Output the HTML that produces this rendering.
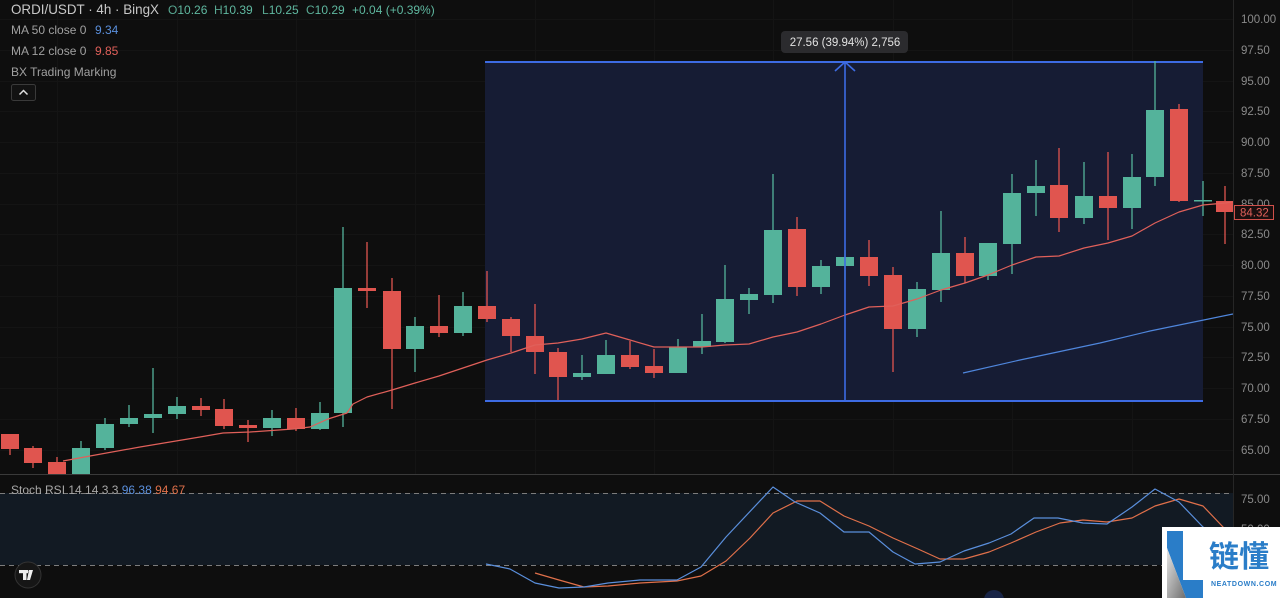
<!DOCTYPE html>
<html>
<head>
<meta charset="utf-8">
<style>
  html,body{margin:0;padding:0;background:#0e0e0e;}
  body{width:1280px;height:598px;overflow:hidden;}
  svg{display:block;}
  text{font-family:"Liberation Sans","Noto Sans CJK SC",sans-serif;}
</style>
</head>
<body>
<svg width="1280" height="598" viewBox="0 0 1280 598" xmlns="http://www.w3.org/2000/svg">
  <defs>
    <clipPath id="pricePane"><rect x="0" y="0" width="1233" height="474"/></clipPath>
    <clipPath id="rsiPane"><rect x="0" y="475" width="1233" height="123"/></clipPath>
    <linearGradient id="lg" x1="0" y1="0" x2="1" y2="1">
      <stop offset="0" stop-color="#e6e6e6"/>
      <stop offset="1" stop-color="#6e6e6e"/>
    </linearGradient>
  </defs>

  <rect x="0" y="0" width="1280" height="598" fill="#0e0e0e"/>

  <!-- grid -->
  <g stroke="#141414" stroke-width="1">
    <line x1="0" y1="19.5" x2="1233" y2="19.5"/>
    <line x1="0" y1="50.5" x2="1233" y2="50.5"/>
    <line x1="0" y1="81.5" x2="1233" y2="81.5"/>
    <line x1="0" y1="111.5" x2="1233" y2="111.5"/>
    <line x1="0" y1="142.5" x2="1233" y2="142.5"/>
    <line x1="0" y1="173.5" x2="1233" y2="173.5"/>
    <line x1="0" y1="204.5" x2="1233" y2="204.5"/>
    <line x1="0" y1="234.5" x2="1233" y2="234.5"/>
    <line x1="0" y1="265.5" x2="1233" y2="265.5"/>
    <line x1="0" y1="296.5" x2="1233" y2="296.5"/>
    <line x1="0" y1="327.5" x2="1233" y2="327.5"/>
    <line x1="0" y1="357.5" x2="1233" y2="357.5"/>
    <line x1="0" y1="388.5" x2="1233" y2="388.5"/>
    <line x1="0" y1="419.5" x2="1233" y2="419.5"/>
    <line x1="0" y1="450.5" x2="1233" y2="450.5"/>
    <line x1="57.5" y1="0" x2="57.5" y2="598"/>
    <line x1="177.5" y1="0" x2="177.5" y2="598"/>
    <line x1="296.5" y1="0" x2="296.5" y2="598"/>
    <line x1="415.5" y1="0" x2="415.5" y2="598"/>
    <line x1="535.5" y1="0" x2="535.5" y2="598"/>
    <line x1="654.5" y1="0" x2="654.5" y2="598"/>
    <line x1="773.5" y1="0" x2="773.5" y2="598"/>
    <line x1="893.5" y1="0" x2="893.5" y2="598"/>
    <line x1="1012.5" y1="0" x2="1012.5" y2="598"/>
    <line x1="1132.5" y1="0" x2="1132.5" y2="598"/>
  </g>

  <g clip-path="url(#pricePane)">
    <!-- measurement box -->
    <rect x="485" y="62" width="718" height="339" fill="#161c34"/>
    <line x1="485" y1="62" x2="1203" y2="62" stroke="#3d6be3" stroke-width="2"/>
    <line x1="485" y1="401" x2="1203" y2="401" stroke="#3d6be3" stroke-width="2"/>

    <!-- candles -->
    <g stroke-width="1.3">
      <g fill="#e0554f" stroke="#e0554f">
        <line x1="10" y1="434" x2="10" y2="455"/><rect x="1" y="434" width="18" height="15" stroke="none"/>
        <line x1="33" y1="446" x2="33" y2="468"/><rect x="24" y="448" width="18" height="15" stroke="none"/>
        <line x1="57" y1="457" x2="57" y2="475"/><rect x="48" y="462" width="18" height="13" stroke="none"/>
        <line x1="201" y1="398" x2="201" y2="416"/><rect x="192" y="406" width="18" height="4" stroke="none"/>
        <line x1="224" y1="399" x2="224" y2="429"/><rect x="215" y="409" width="18" height="17" stroke="none"/>
        <line x1="248" y1="420" x2="248" y2="442"/><rect x="239" y="425" width="18" height="3" stroke="none"/>
        <line x1="296" y1="408" x2="296" y2="431"/><rect x="287" y="418" width="18" height="11" stroke="none"/>
        <line x1="367" y1="242" x2="367" y2="308"/><rect x="358" y="288" width="18" height="3" stroke="none"/>
        <line x1="392" y1="278" x2="392" y2="409"/><rect x="383" y="291" width="18" height="58" stroke="none"/>
        <line x1="439" y1="295" x2="439" y2="337"/><rect x="430" y="326" width="18" height="7" stroke="none"/>
        <line x1="487" y1="271" x2="487" y2="322"/><rect x="478" y="306" width="18" height="13" stroke="none"/>
        <line x1="511" y1="317" x2="511" y2="352"/><rect x="502" y="319" width="18" height="17" stroke="none"/>
        <line x1="535" y1="304" x2="535" y2="374"/><rect x="526" y="336" width="18" height="16" stroke="none"/>
        <line x1="558" y1="348" x2="558" y2="400"/><rect x="549" y="352" width="18" height="25" stroke="none"/>
        <line x1="630" y1="341" x2="630" y2="369"/><rect x="621" y="355" width="18" height="12" stroke="none"/>
        <line x1="654" y1="349" x2="654" y2="378"/><rect x="645" y="366" width="18" height="7" stroke="none"/>
        <line x1="797" y1="217" x2="797" y2="296"/><rect x="788" y="229" width="18" height="58" stroke="none"/>
        <line x1="869" y1="240" x2="869" y2="286"/><rect x="860" y="257" width="18" height="19" stroke="none"/>
        <line x1="893" y1="267" x2="893" y2="372"/><rect x="884" y="275" width="18" height="54" stroke="none"/>
        <line x1="965" y1="237" x2="965" y2="283"/><rect x="956" y="253" width="18" height="23" stroke="none"/>
        <line x1="1059" y1="148" x2="1059" y2="232"/><rect x="1050" y="185" width="18" height="33" stroke="none"/>
        <line x1="1108" y1="152" x2="1108" y2="240"/><rect x="1099" y="196" width="18" height="12" stroke="none"/>
        <line x1="1179" y1="104" x2="1179" y2="202"/><rect x="1170" y="109" width="18" height="92" stroke="none"/>
        <line x1="1225" y1="186" x2="1225" y2="244"/><rect x="1216" y="201" width="18" height="11" stroke="none"/>
      </g>
      <g fill="#54b39b" stroke="#54b39b">
        <line x1="81" y1="441" x2="81" y2="475"/><rect x="72" y="448" width="18" height="27" stroke="none"/>
        <line x1="105" y1="418" x2="105" y2="450"/><rect x="96" y="424" width="18" height="24" stroke="none"/>
        <line x1="129" y1="405" x2="129" y2="427"/><rect x="120" y="418" width="18" height="6" stroke="none"/>
        <line x1="153" y1="368" x2="153" y2="433"/><rect x="144" y="414" width="18" height="4" stroke="none"/>
        <line x1="177" y1="397" x2="177" y2="419"/><rect x="168" y="406" width="18" height="8" stroke="none"/>
        <line x1="272" y1="410" x2="272" y2="436"/><rect x="263" y="418" width="18" height="10" stroke="none"/>
        <line x1="320" y1="402" x2="320" y2="430"/><rect x="311" y="413" width="18" height="16" stroke="none"/>
        <line x1="343" y1="227" x2="343" y2="427"/><rect x="334" y="288" width="18" height="125" stroke="none"/>
        <line x1="415" y1="317" x2="415" y2="372"/><rect x="406" y="326" width="18" height="23" stroke="none"/>
        <line x1="463" y1="292" x2="463" y2="336"/><rect x="454" y="306" width="18" height="27" stroke="none"/>
        <line x1="582" y1="355" x2="582" y2="380"/><rect x="573" y="373" width="18" height="4" stroke="none"/>
        <line x1="606" y1="340" x2="606" y2="374"/><rect x="597" y="355" width="18" height="19" stroke="none"/>
        <line x1="678" y1="339" x2="678" y2="373"/><rect x="669" y="347" width="18" height="26" stroke="none"/>
        <line x1="702" y1="314" x2="702" y2="354"/><rect x="693" y="341" width="18" height="6" stroke="none"/>
        <line x1="725" y1="265" x2="725" y2="343"/><rect x="716" y="299" width="18" height="43" stroke="none"/>
        <line x1="749" y1="288" x2="749" y2="314"/><rect x="740" y="294" width="18" height="6" stroke="none"/>
        <line x1="773" y1="174" x2="773" y2="303"/><rect x="764" y="230" width="18" height="65" stroke="none"/>
        <line x1="821" y1="260" x2="821" y2="294"/><rect x="812" y="266" width="18" height="21" stroke="none"/>
        <line x1="845" y1="250" x2="845" y2="280"/><rect x="836" y="257" width="18" height="9" stroke="none"/>
        <line x1="917" y1="282" x2="917" y2="337"/><rect x="908" y="289" width="18" height="40" stroke="none"/>
        <line x1="941" y1="211" x2="941" y2="302"/><rect x="932" y="253" width="18" height="37" stroke="none"/>
        <line x1="988" y1="243" x2="988" y2="280"/><rect x="979" y="243" width="18" height="33" stroke="none"/>
        <line x1="1012" y1="174" x2="1012" y2="274"/><rect x="1003" y="193" width="18" height="51" stroke="none"/>
        <line x1="1036" y1="160" x2="1036" y2="216"/><rect x="1027" y="186" width="18" height="7" stroke="none"/>
        <line x1="1084" y1="162" x2="1084" y2="224"/><rect x="1075" y="196" width="18" height="22" stroke="none"/>
        <line x1="1132" y1="154" x2="1132" y2="229"/><rect x="1123" y="177" width="18" height="31" stroke="none"/>
        <line x1="1155" y1="61" x2="1155" y2="186"/><rect x="1146" y="110" width="18" height="67" stroke="none"/>
        <line x1="1203" y1="181" x2="1203" y2="216"/><rect x="1194" y="200" width="18" height="1.5" stroke="none"/>
      </g>
    </g>

    <!-- MA 12 -->
    <polyline fill="none" stroke="#e0605a" stroke-width="1.2" stroke-linejoin="round"
      points="63,461 90,456 140,447 200,437 223,433 250,432 293,429 310,427 328,419 347,413 353,404 367,397 392,390 415,383 439,376 463,368 487,360 511,353 535,345 558,343 582,339 606,333 630,340 654,347 678,347 702,347 725,345 749,344 773,337 797,332 821,324 845,315 869,307 893,306 917,299 941,290 965,283 988,275 1012,265 1036,257 1059,256 1084,248 1108,243 1132,236 1155,223 1179,212 1203,205 1225,203 1233,202"/>
    <!-- MA 50 -->
    <polyline fill="none" stroke="#4f86dc" stroke-width="1.2"
      points="963,373 1020,360 1100,343 1150,331 1233,314"/>

    <!-- arrow line -->
    <line x1="845" y1="62" x2="845" y2="401" stroke="#3d6be3" stroke-width="1.6"/>
    <polyline points="835,71 845,62 855,71" fill="none" stroke="#3d6be3" stroke-width="1.6"/>
  </g>

  <!-- tooltip -->
  <rect x="781" y="31" width="127" height="22" rx="4" fill="#2b2b2e"/>
  <text x="845" y="46" font-size="11.5" fill="#e2e2e2" text-anchor="middle">27.56 (39.94%) 2,756</text>

  <!-- pane separator -->
  <line x1="0" y1="474.5" x2="1280" y2="474.5" stroke="#3a3a3a" stroke-width="1"/>
  <rect x="0" y="475" width="1233" height="123" fill="#0e0e0e"/>

  <!-- RSI pane -->
  <g clip-path="url(#rsiPane)">
    <rect x="0" y="493" width="1233" height="72" fill="#121a23"/>
    <line x1="0" y1="493.5" x2="1233" y2="493.5" stroke="#7c7c7c" stroke-width="1" stroke-dasharray="5,4"/>
    <line x1="0" y1="565.5" x2="1233" y2="565.5" stroke="#7c7c7c" stroke-width="1" stroke-dasharray="5,4"/>
    <polyline fill="none" stroke="#e0704a" stroke-width="1.2" stroke-linejoin="round"
      points="535,573 559,580 584,587 608,586 640,583 677,581 701,576 726,561 750,538 773,513 797,501 820,501 844,516 869,526 893,538 918,549 940,559 964,559 989,552 1011,543 1036,532 1060,523 1083,520 1107,522 1132,518 1155,506 1179,499 1203,506 1224,528 1233,540"/>
    <polyline fill="none" stroke="#5a8fdc" stroke-width="1.2" stroke-linejoin="round"
      points="486,564 510,569 535,583 559,588 584,587 608,583 640,580 677,580 701,567 726,537 773,487 795,502 820,513 844,532 869,532 893,552 915,564 940,562 964,551 989,543 1011,534 1034,518 1058,518 1083,523 1107,524 1132,507 1155,489 1179,502 1203,527 1224,545 1233,552"/>
    <circle cx="994" cy="600" r="10" fill="#1b2a55" opacity="0.8"/>
  </g>
  <text x="11" y="494" font-size="12" fill="#a8a8a8">Stoch RSI 14 14 3 3 <tspan fill="#5a8fdc">96.38</tspan> <tspan fill="#e0704a">94.67</tspan></text>

  <!-- TradingView logo -->
  <circle cx="28" cy="575" r="13" fill="#161616" stroke="#333" stroke-width="1"/>
  <g fill="#f0f0f0">
    <rect x="19" y="570" width="9" height="3.2"/>
    <rect x="23" y="570" width="3.5" height="10"/>
    <polygon points="29,570 33,570 30,580 27,580"/>
    <circle cx="30" cy="571.6" r="1.6"/>
  </g>

  <!-- right axis -->
  <line x1="1233.5" y1="0" x2="1233.5" y2="598" stroke="#262626" stroke-width="1"/>
  <g font-size="11.5" fill="#8a8a8a">
    <text x="1241" y="23">100.00</text>
    <text x="1241" y="54">97.50</text>
    <text x="1241" y="85">95.00</text>
    <text x="1241" y="115">92.50</text>
    <text x="1241" y="146">90.00</text>
    <text x="1241" y="177">87.50</text>
    <text x="1241" y="208">85.00</text>
    <text x="1241" y="238">82.50</text>
    <text x="1241" y="269">80.00</text>
    <text x="1241" y="300">77.50</text>
    <text x="1241" y="331">75.00</text>
    <text x="1241" y="361">72.50</text>
    <text x="1241" y="392">70.00</text>
    <text x="1241" y="423">67.50</text>
    <text x="1241" y="454">65.00</text>
    <text x="1241" y="503">75.00</text>
    <text x="1241" y="533">50.00</text>
  </g>
  <!-- current price label -->
  <rect x="1234.5" y="205.5" width="39" height="14" fill="#1a0f0f" stroke="#d0504a" stroke-width="1"/>
  <text x="1240" y="216.5" font-size="11.5" fill="#e0605a">84.32</text>

  <!-- top legend -->
  <text x="11" y="14" font-size="14" fill="#c8c8c8" textLength="148" lengthAdjust="spacingAndGlyphs">ORDI/USDT · 4h · BingX</text>
  <g font-size="12" fill="#5fb8a0">
    <text x="168" y="14"><tspan fill="#58a892">O</tspan>10.26</text>
    <text x="214" y="14"><tspan fill="#58a892">H</tspan>10.39</text>
    <text x="262" y="14"><tspan fill="#58a892">L</tspan>10.25</text>
    <text x="306" y="14"><tspan fill="#58a892">C</tspan>10.29</text>
    <text x="352" y="14">+0.04 (+0.39%)</text>
  </g>
  <text x="11" y="34" font-size="12" fill="#a0a0a0">MA 50 close 0 <tspan x="95" fill="#5a8fdc">9.34</tspan></text>
  <text x="11" y="55" font-size="12" fill="#a0a0a0">MA 12 close 0 <tspan x="95" fill="#e0605a">9.85</tspan></text>
  <text x="11" y="76" font-size="12" fill="#a0a0a0">BX Trading Marking</text>
  <rect x="11.5" y="84.5" width="24" height="16" rx="2" fill="#121212" stroke="#3a3a3a"/>
  <polyline points="19.5,94.5 23.5,90.5 27.5,94.5" fill="none" stroke="#e0e0e0" stroke-width="1.5"/>

  <!-- watermark logo -->
  <rect x="1162" y="527" width="118" height="71" fill="#ffffff"/>
  <polygon points="1167,531 1183,531 1183,580 1203,580 1203,598 1186,598 1167,548" fill="#2a7dc8"/>
  <polygon points="1167,548 1186,598 1167,598" fill="url(#lg)"/>
  <text x="1209" y="567" font-size="30" fill="#2a7dc8" font-family="'Noto Sans CJK SC','WenQuanYi Zen Hei',sans-serif" font-weight="bold">链懂</text>
  <text x="1211" y="586" font-size="7" fill="#2a7dc8" font-weight="bold" letter-spacing="0.6">NEATDOWN.COM</text>
</svg>
</body>
</html>
